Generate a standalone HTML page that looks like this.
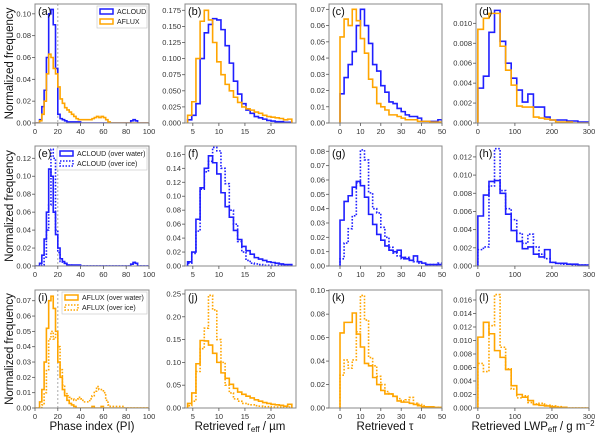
<!DOCTYPE html>
<html><head><meta charset="utf-8">
<style>
html,body{margin:0;padding:0;background:#fff;}
svg{display:block;font-family:"Liberation Sans",sans-serif;}
</style></head>
<body>
<svg id="fig" width="600" height="436"></svg>
<script>
const blue="#1f1fff", orange="#ffa500";
// x-grids (bin start, bin width, count)
const binsPI=[0,2,50], binsR=[4,0.8,25], binsT=[0,2,25], binsL=[0,15,20];
// panel (a)
const aAcloud=[0,0,0.003,0.015,0.03,0.06,0.1,0.104,0.09,0.05,0.008,0.004,0.003,0.002,0.001,0.001,0.001,0.001,0.001,0.001,0,0,0,0,0,0,0,0,0,0,0,0,0,0,0,0,0,0,0,0,0,0,0.002,0.003,0.002,0,0,0,0,0];
const aAflux=[0,0,0.002,0.008,0.02,0.045,0.063,0.06,0.05,0.045,0.033,0.022,0.018,0.014,0.012,0.01,0.008,0.006,0.004,0.003,0.003,0.003,0.003,0.003,0.003,0.004,0.005,0.006,0.005,0.006,0.005,0.003,0.001,0,0,0,0,0,0,0,0,0,0,0,0,0,0,0,0,0];
// panel (b)
const bAcloud=[0.005,0.012,0.03,0.1,0.14,0.153,0.162,0.16,0.145,0.12,0.093,0.065,0.045,0.03,0.02,0.015,0.01,0.008,0.006,0.004,0.003,0.002,0.002,0.001,0.001];
const bAflux=[0.012,0.033,0.1,0.158,0.175,0.16,0.125,0.095,0.075,0.06,0.05,0.04,0.032,0.025,0.022,0.02,0.017,0.015,0.012,0.01,0.009,0.008,0.007,0.005,0.006];
// panel (c)
const cAcloud=[0.018,0.028,0.036,0.044,0.06,0.07,0.06,0.049,0.036,0.032,0.023,0.019,0.013,0.012,0.009,0.007,0.005,0.004,0.004,0.003,0.001,0.001,0.001,0.001,0.002];
const cAflux=[0.053,0.064,0.06,0.07,0.063,0.052,0.043,0.027,0.022,0.012,0.01,0.008,0.005,0.005,0.004,0.003,0.002,0.002,0.002,0.001,0.001,0.001,0.0005,0.0005,0.0005];
// panel (d)
const dAcloud=[0.0035,0.0047,0.0091,0.0113,0.0082,0.006,0.0045,0.0033,0.0021,0.0029,0.0016,0.0016,0.0006,0.0003,0.0003,0.0003,0.0002,0.0002,0.0001,0.0001];
const dAflux=[0.0094,0.0105,0.011,0.011,0.0077,0.0053,0.0038,0.0017,0.0016,0.0016,0.0006,0.0005,0.0004,0.0003,0.0001,0.0001,0.0001,0,0,0];
// panel (e)
const eWater=[0,0,0.003,0.012,0.03,0.06,0.108,0.1,0.06,0.035,0.02,0.008,0.005,0.003,0.001,0.001,0.001,0.001,0.001,0.001,0,0,0,0,0,0,0,0,0,0,0,0,0,0,0,0,0,0,0,0,0,0,0.002,0.004,0.003,0,0,0,0,0];
const eIce=[0,0,0,0.001,0.01,0.04,0.068,0.13,0.12,0.04,0.015,0.005,0.003,0.002,0.001,0.001,0,0,0,0,0,0,0,0,0,0,0,0,0,0,0,0,0,0,0,0,0,0,0,0,0,0,0.002,0.004,0.003,0,0,0,0,0];
// panel (f)
const fWater=[0.006,0.02,0.067,0.112,0.14,0.158,0.148,0.132,0.105,0.085,0.07,0.051,0.038,0.028,0.022,0.017,0.012,0.01,0.008,0.006,0.005,0.004,0.003,0.002,0.002];
const fIce=[0.004,0.018,0.05,0.11,0.135,0.15,0.17,0.165,0.14,0.118,0.08,0.06,0.035,0.02,0.008,0.004,0.003,0.002,0.001,0.001,0.001,0.001,0.001,0.001,0];
// panel (g)
const gWater=[0.032,0.045,0.049,0.055,0.059,0.056,0.048,0.036,0.029,0.022,0.018,0.014,0.011,0.01,0.011,0.006,0.005,0.004,0.007,0.003,0.002,0.001,0.001,0.001,0.001];
const gIce=[0.005,0.016,0.026,0.035,0.058,0.081,0.074,0.051,0.04,0.037,0.027,0.02,0.013,0.009,0.007,0.005,0.006,0.004,0.003,0.002,0.002,0.001,0.001,0.001,0.002];
// panel (h)
const hWater=[0.0055,0.0078,0.0093,0.0094,0.008,0.0057,0.0039,0.0027,0.0019,0.0021,0.0013,0.001,0.0018,0.0004,0.0003,0.0003,0.0002,0.0002,0.0001,0.0001];
const hIce=[0.0018,0.0021,0.0088,0.0129,0.0083,0.0063,0.0051,0.0036,0.0025,0.0035,0.0021,0.0013,0.0008,0.0004,0.0003,0.0002,0.0002,0.0001,0.0001,0.0001];
// panel (i)
const iWater=[0,0,0.004,0.012,0.03,0.052,0.07,0.073,0.065,0.05,0.03,0.02,0.012,0.008,0.005,0.003,0.002,0.001,0,0,0,0,0,0,0,0.001,0,0,0,0.001,0,0,0,0,0,0,0,0,0,0,0,0,0,0,0,0,0,0,0,0];
const iIce=[0,0,0,0.002,0.01,0.025,0.045,0.05,0.045,0.048,0.04,0.025,0.015,0.01,0.008,0.007,0.006,0.005,0.006,0.007,0.006,0.004,0.004,0.004,0.006,0.008,0.011,0.014,0.012,0.012,0.01,0.005,0.002,0.001,0.001,0.001,0.001,0.001,0.001,0,0,0,0,0,0,0,0,0,0,0];
// panel (j)
const jWater=[0.01,0.033,0.097,0.148,0.147,0.138,0.12,0.1,0.077,0.065,0.052,0.043,0.035,0.03,0.026,0.022,0.018,0.015,0.012,0.01,0.008,0.007,0.006,0.004,0.008];
const jIce=[0.005,0.015,0.08,0.13,0.175,0.247,0.215,0.15,0.1,0.05,0.033,0.02,0.015,0.01,0.008,0.007,0.005,0.004,0.003,0.003,0.002,0.002,0.002,0.001,0.002];
// panel (k)
const kWater=[0.064,0.073,0.073,0.081,0.063,0.052,0.038,0.036,0.026,0.02,0.015,0.012,0.012,0.01,0.006,0.005,0.005,0.004,0.003,0.002,0.001,0.001,0.001,0.0005,0.0005];
const kIce=[0.028,0.041,0.034,0.041,0.065,0.096,0.075,0.043,0.036,0.027,0.02,0.014,0.012,0.01,0.008,0.006,0.007,0.009,0.004,0.003,0.002,0.001,0.001,0.0005,0.0005];
// panel (l)
const lWater=[0.0105,0.0127,0.011,0.0085,0.0075,0.0057,0.0033,0.002,0.0016,0.0011,0.0005,0.0004,0.0003,0.0002,0.0001,0.0001,0,0,0,0];
const lIce=[0.0066,0.0054,0.0122,0.0168,0.009,0.0058,0.0028,0.0015,0.0018,0.0008,0.0006,0.0007,0.0004,0.0003,0.0002,0.0001,0,0,0,0];
// tick labels
const xtPI=[0,20,40,60,80,100], xtR=[5,10,15,20], xtT=[0,10,20,30,40,50], xtL=[0,100,200,300];

const NS="http://www.w3.org/2000/svg";
const svg=document.getElementById("fig");
function mk(tag,attrs,parent,text){const e=document.createElementNS(NS,tag);for(const k in attrs)e.setAttribute(k,attrs[k]);if(text!==undefined)e.textContent=text;(parent||svg).appendChild(e);return e;}

const cols=[[35,149],[185,296],[329,442],[476,589]];
const rows=[[4,123],[146,266],[290,408]];
const xlims=[[0,100],[3.5,24.8],[-5.4,50],[-5,300]];
const xbins=[binsPI,binsR,binsT,binsL];
const xticks=[xtPI,xtR,xtT,xtL];
const panels=[
 {id:"a",ymax:0.109,yt:[0,0.02,0.04,0.06,0.08,0.10],d:2,s:[[aAcloud,blue,0],[aAflux,orange,0]]},
 {id:"b",ymax:0.1848,yt:[0,0.025,0.05,0.075,0.1,0.125,0.15,0.175],d:3,s:[[bAcloud,blue,0],[bAflux,orange,0]]},
 {id:"c",ymax:0.0733,yt:[0,0.01,0.02,0.03,0.04,0.05,0.06,0.07],d:2,s:[[cAcloud,blue,0],[cAflux,orange,0]]},
 {id:"d",ymax:0.01194,yt:[0,0.002,0.004,0.006,0.008,0.01],d:3,s:[[dAcloud,blue,0],[dAflux,orange,0]]},
 {id:"e",ymax:0.1337,yt:[0,0.02,0.04,0.06,0.08,0.1,0.12],d:2,s:[[eWater,blue,0],[eIce,blue,1]]},
 {id:"f",ymax:0.172,yt:[0,0.02,0.04,0.06,0.08,0.1,0.12,0.14,0.16],d:2,s:[[fWater,blue,0],[fIce,blue,1]]},
 {id:"g",ymax:0.0837,yt:[0,0.01,0.02,0.03,0.04,0.05,0.06,0.07,0.08],d:2,s:[[gWater,blue,0],[gIce,blue,1]]},
 {id:"h",ymax:0.0132,yt:[0,0.002,0.004,0.006,0.008,0.01,0.012],d:3,s:[[hWater,blue,0],[hIce,blue,1]]},
 {id:"i",ymax:0.077,yt:[0,0.01,0.02,0.03,0.04,0.05,0.06,0.07],d:2,s:[[iWater,orange,0],[iIce,orange,1]]},
 {id:"j",ymax:0.2587,yt:[0,0.05,0.1,0.15,0.2,0.25],d:2,s:[[jWater,orange,0],[jIce,orange,1]]},
 {id:"k",ymax:0.1006,yt:[0,0.02,0.04,0.06,0.08,0.1],d:2,s:[[kWater,orange,0],[kIce,orange,1]]},
 {id:"l",ymax:0.01748,yt:[0,0.002,0.004,0.006,0.008,0.01,0.012,0.014,0.016],d:3,s:[[lWater,orange,0],[lIce,orange,1]]}
];

panels.forEach((p,idx)=>{
  const c=idx%4, r=Math.floor(idx/4);
  const [x0,x1]=cols[c], [y0,y1]=rows[r], [lo,hi]=xlims[c];
  const X=v=>x0+(v-lo)/(hi-lo)*(x1-x0);
  const Y=v=>y1-v/p.ymax*(y1-y0);
  const g=mk("g",{});
  
  
  const cid="clip"+p.id;
  const cp=mk("clipPath",{id:cid},g); mk("rect",{x:x0,y:y0,width:x1-x0,height:y1-y0},cp);
  if(c===0){const dl=mk("line",{x1:X(20),x2:X(20),y1:y0,y2:y1,stroke:"#aaa","stroke-width":1,"stroke-dasharray":"2,2"},g);
    
    }
  const [b0,bw,n]=xbins[c];
  p.s.forEach((s,si)=>{
    const vals=s[0];
    let d="M"+X(b0)+","+Y(0);
    for(let i=0;i<n;i++){d+=" L"+X(b0+i*bw)+","+Y(vals[i])+" L"+X(b0+(i+1)*bw)+","+Y(vals[i]);}
    d+=" L"+X(b0+n*bw)+","+Y(0);
    const pa=mk("path",{d:d,fill:"none",stroke:s[1],"stroke-width":1.6,"clip-path":"url(#"+cid+")","stroke-dasharray":s[2]?"1.6,1.6":"none"},g);
    
    
  });
  const fr=mk("rect",{x:x0,y:y0,width:x1-x0,height:y1-y0,fill:"none",stroke:"#888","stroke-width":1},g);
  
  
  xticks[c].forEach(t=>{
    mk("line",{x1:X(t),x2:X(t),y1:y1,y2:y1+3,stroke:"#555","stroke-width":0.8},g);
    const tl=mk("text",{x:X(t),y:y1+11,"font-size":7.5,"text-anchor":"middle",fill:"#333"},g,String(t));
    
    
  });
  p.yt.forEach(t=>{
    mk("line",{x1:x0-3,x2:x0,y1:Y(t),y2:Y(t),stroke:"#555","stroke-width":0.8},g);
    const tl=mk("text",{x:x0-4,y:Y(t)+2.5,"font-size":7.5,"text-anchor":"end",fill:"#333"},g,t.toFixed(p.d));
    
    
  });
  const pl=mk("text",{x:x0+3,y:y0+11,"font-size":11,fill:"#111"},g,"("+p.id+")");
  
  
});

// y axis titles
rows.forEach((r,i)=>{
  const yc=(r[0]+r[1])/2;
  const t=mk("text",{x:13,y:yc,"font-size":11.5,"text-anchor":"middle",fill:"#111",transform:"rotate(-90 13 "+yc+")"},svg,"Normalized frequency");
  
  
});
</script>
<svg width="600" height="436" style="position:absolute;left:0;top:0">
 <g font-family="Liberation Sans, sans-serif" font-size="7" fill="#222">
  <g>
   <rect x="97" y="6" width="50" height="22" fill="#fff" stroke="#ccc" stroke-width="0.7"/>
   <rect x="100" y="9" width="13" height="5" fill="none" stroke="#1f1fff" stroke-width="1.5"/>
   <text x="117" y="14">ACLOUD</text>
   <rect x="100" y="19" width="13" height="5" fill="none" stroke="#ffa500" stroke-width="1.5"/>
   <text x="117" y="24">AFLUX</text>
  </g>
  <g>
   <rect x="57" y="148" width="90" height="22" fill="#fff" stroke="#ccc" stroke-width="0.7"/>
   <rect x="60" y="151" width="13" height="5" fill="none" stroke="#1f1fff" stroke-width="1.5"/>
   <text x="77" y="156">ACLOUD (over water)</text>
   <rect x="60" y="161" width="13" height="5" fill="none" stroke="#1f1fff" stroke-width="1.5" stroke-dasharray="1.5,1.5"/>
   <text x="77" y="166">ACLOUD (over ice)</text>
  </g>
  <g>
   <rect x="62" y="292" width="85" height="22" fill="#fff" stroke="#ccc" stroke-width="0.7"/>
   <rect x="65" y="295" width="13" height="5" fill="none" stroke="#ffa500" stroke-width="1.5"/>
   <text x="82" y="300">AFLUX (over water)</text>
   <rect x="65" y="305" width="13" height="5" fill="none" stroke="#ffa500" stroke-width="1.5" stroke-dasharray="1.5,1.5"/>
   <text x="82" y="310">AFLUX (over ice)</text>
  </g>
 </g>
 <g font-family="Liberation Sans, sans-serif" font-size="11.5" fill="#111" text-anchor="middle">
  <text x="92" y="430">Phase index (PI)</text>
  <text x="240" y="430">Retrieved r<tspan font-size="8" dy="2">eff</tspan><tspan dy="-2"> / µm</tspan></text>
  <text x="385" y="430">Retrieved τ</text>
  <text x="533" y="430">Retrieved LWP<tspan font-size="8" dy="2">eff</tspan><tspan dy="-2"> / g m</tspan><tspan font-size="8" dy="-4">−2</tspan></text>
 </g>
</svg>
</body></html>
